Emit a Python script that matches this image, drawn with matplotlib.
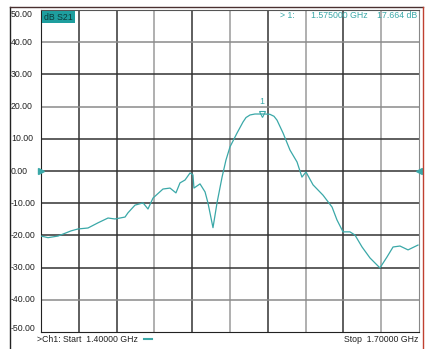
import matplotlib
matplotlib.use("Agg")
import matplotlib.pyplot as plt
from matplotlib.lines import Line2D
from matplotlib.transforms import blended_transform_factory

plt.rcParams['font.family'] = ['Liberation Sans', 'DejaVu Sans']

# trace (GHz, dB)
freq_ghz = [1.4000, 1.4056, 1.4135, 1.4238, 1.4294, 1.4373, 1.4452, 1.4532, 1.4587,
            1.4667, 1.4690, 1.4746, 1.4810, 1.4849, 1.4889, 1.4968, 1.5024, 1.5071,
            1.5103, 1.5143, 1.5183, 1.5206, 1.5214, 1.5262, 1.5302, 1.5325, 1.5365,
            1.5397, 1.5437, 1.5468, 1.5500, 1.5556, 1.5603, 1.5627, 1.5659, 1.5698,
            1.5738, 1.5778, 1.5817, 1.5849, 1.5873, 1.5921, 1.5976, 1.6032, 1.6071,
            1.6103, 1.6159, 1.6238, 1.6310, 1.6349, 1.6397, 1.6452, 1.6492, 1.6548,
            1.6611, 1.6690, 1.6746, 1.6794, 1.6849, 1.6913, 1.6992]
s21_db = [-20.2, -20.7, -20.2, -18.6, -18.0, -17.7, -16.1, -14.6, -14.9,
          -14.3, -13.0, -10.6, -9.9, -11.8, -8.4, -5.6, -5.3, -6.8,
          -3.7, -2.8, -0.6, -1.2, -5.3, -4.0, -6.5, -9.9, -17.6,
          -9.9, -1.9, 3.4, 7.5, 11.8, 15.2, 16.6, 17.4, 17.7,
          17.7, 17.7, 17.6, 17.0, 15.8, 11.8, 6.5, 2.8, -1.9,
          -0.3, -4.3, -7.5, -11.2, -15.2, -18.9, -18.9, -19.9, -23.6,
          -27.0, -30.1, -26.7, -23.6, -23.3, -24.5, -23.0]

marker_freq = 1.575
marker_db = 17.664
start_ghz = 1.4
stop_ghz = 1.7
y_ticks = [50, 40, 30, 20, 10, 0, -10, -20, -30, -40, -50]

W, H = 425, 349
teal = '#3aa8a8'
fs = 6.3

fig = plt.figure(figsize=(W / 100, H / 100), dpi=100)
fig.patch.set_facecolor('white')
ax = fig.add_axes([41 / W, 1 - 332 / H, (419 - 41) / W, (332 - 10) / H])
ax.set_xlim(start_ghz, stop_ghz)
ax.set_ylim(-50, 50)

step = (stop_ghz - start_ghz) / 10
light_v = {3, 5, 7, 9}
for i in range(1, 10):
    c = '#9a9a9a' if i in light_v else '#333333'
    ax.axvline(start_ghz + i * step, color=c, lw=1.1, zorder=1)
for v in y_ticks[1:-1]:
    c = '#8a8a8a' if v in (40, 20, -40) else '#333333'
    ax.axhline(v, color=c, lw=1.1, zorder=1)

ax.plot(freq_ghz, s21_db, color=teal, lw=0.9, zorder=3)

# marker 1
ax.plot([marker_freq], [marker_db], marker='v', ms=4.5, mfc='none', mec=teal,
        mew=0.8, zorder=4)
ax.annotate('1', (marker_freq, marker_db), xytext=(0, 6), textcoords='offset points',
            ha='center', va='bottom', fontsize=fs, color=teal)

ax.set_xticks([])
ax.set_yticks([])
for side in ['left', 'bottom']:
    ax.spines[side].set_color('#222222')
ax.spines['top'].set_color('#555555')
ax.spines['right'].set_color('#888888')

# y labels at the left edge
tr = blended_transform_factory(fig.transFigure, ax.transData)
for v in y_ticks:
    yy = min(max(v, -49.0), 48.5)
    ax.text(11 / W, yy, '%.2f' % v, transform=tr, fontsize=fs, color='#222222',
            ha='left', va='center', clip_on=False)

# reference position arrows
ax.plot([start_ghz], [0], marker='>', ms=5, color=teal, clip_on=False, zorder=5)
ax.plot([stop_ghz], [0], marker='<', ms=5, color=teal, clip_on=False, zorder=5)

# trace label box
fig.text(44 / W, 1 - 17 / H, 'dB S21', fontsize=fs, color='#0c3a3a', ha='left',
         va='center', bbox=dict(boxstyle='square,pad=0.2', fc='#1e9e9e', ec='none'))

# marker readout
fig.text(280 / W, 1 - 15 / H, '> 1:', fontsize=fs, color=teal, ha='left', va='center')
fig.text(311 / W, 1 - 15 / H, '%.6f GHz' % marker_freq, fontsize=fs, color=teal,
         ha='left', va='center')
fig.text(417 / W, 1 - 15 / H, '%.3f dB' % marker_db, fontsize=fs, color=teal,
         ha='right', va='center')

# footer
fig.text(37 / W, 1 - 339 / H, '>Ch1: Start  %.5f GHz' % start_ghz, fontsize=fs,
         color='#222222', ha='left', va='center')
fig.add_artist(Line2D([144 / W, 152 / W], [1 - 339 / H, 1 - 339 / H], color=teal, lw=1.5))
fig.text(418 / W, 1 - 339 / H, 'Stop  %.5f GHz' % stop_ghz, fontsize=fs,
         color='#222222', ha='right', va='center')

# screen frame
fig.add_artist(Line2D([10 / W, 10 / W], [0, 1 - 7 / H], color='#222222', lw=1))
fig.add_artist(Line2D([10 / W, 423 / W], [1 - 7 / H, 1 - 7 / H], color='#4a3030', lw=1))
fig.add_artist(Line2D([423 / W, 423 / W], [0, 1 - 7 / H], color='#c04030', lw=1))

fig.savefig('out.png', dpi=100)
